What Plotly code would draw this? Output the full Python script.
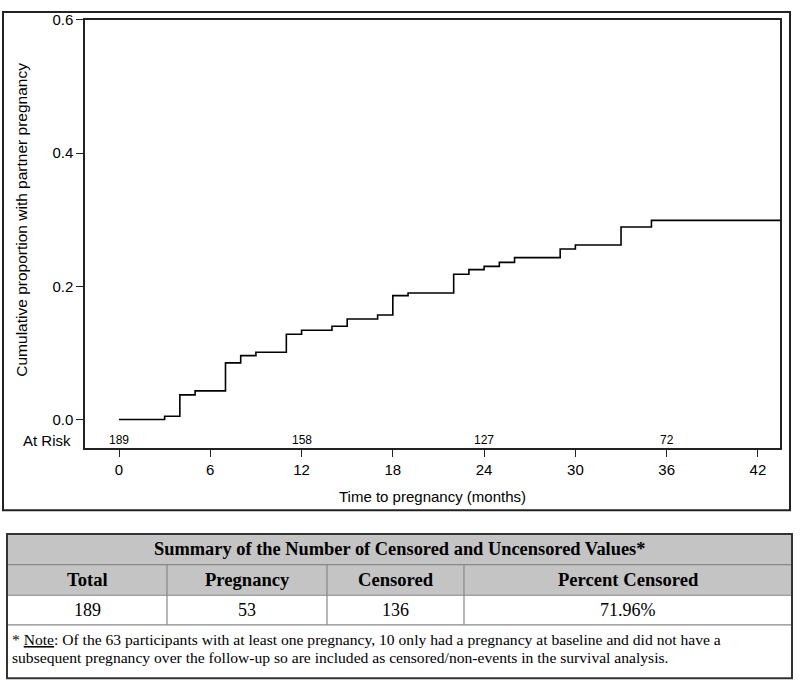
import plotly.graph_objects as go

# ---------------- data ----------------
event_times = [0, 3, 4, 5, 7, 8, 9, 11, 12, 14, 15, 17, 18, 19, 22, 23, 24, 25, 26, 29, 30, 33, 35, 43.45]
cum_prop = [0, 0.005, 0.037, 0.043, 0.085, 0.096, 0.101, 0.128, 0.134, 0.140, 0.151, 0.157, 0.186,
            0.190, 0.218, 0.225, 0.230, 0.236, 0.243, 0.256, 0.262, 0.289, 0.299, 0.299]
x_ticks = [0, 6, 12, 18, 24, 30, 36, 42]
y_ticks = [0.0, 0.2, 0.4, 0.6]
risk_times = [0, 12, 24, 36]
at_risk = [189, 158, 127, 72]

table_title = "Summary of the Number of Censored and Uncensored Values*"
table_headers = ["Total", "Pregnancy", "Censored", "Percent Censored"]
table_values = ["189", "53", "136", "71.96%"]
note_line1 = ("* <span style='text-decoration:underline'>Note</span>: Of the 63 participants with at least one "
              "pregnancy, 10 only had a pregnancy at baseline and did not have a")
note_line2 = ("subsequent pregnancy over the follow-up so are included as censored/non-events in the survival analysis.")

# ---------------- layout helpers (pixel -> paper) ----------------
W, H = 800, 688
def px(x):
    return x / W
def py(y):
    return 1 - y / H

SANS = "Liberation Sans, Arial, sans-serif"
SERIF = "Liberation Serif, Times New Roman, serif"

fig = go.Figure()
fig.add_trace(go.Scatter(x=event_times, y=cum_prop, mode="lines", line=dict(color="black", width=1.6, shape="hv"),
                         hoverinfo="skip", showlegend=False, cliponaxis=False))

# At-risk numbers
for t, n in zip(risk_times, at_risk):
    fig.add_annotation(x=t, y=-0.031, xref="x", yref="y", text=str(n), showarrow=False,
                       font=dict(family=SANS, size=12, color="black"), xanchor="center", yanchor="middle")
fig.add_annotation(x=px(73), y=-0.031, xref="paper", yref="y", text="At Risk", showarrow=False,
                   font=dict(family=SANS, size=15, color="black"), xanchor="right", yanchor="middle")

# Y axis title
fig.add_annotation(x=px(22), y=0.3, xref="paper", yref="y", text="Cumulative proportion with partner pregnancy",
                   textangle=-90, showarrow=False, font=dict(family=SANS, size=15.5, color="black"),
                   xanchor="center", yanchor="middle")
# X axis title
fig.add_annotation(x=(px(85) + px(780)) / 2, y=py(494), xref="paper", yref="paper", text="Time to pregnancy (months)",
                   showarrow=False, font=dict(family=SANS, size=15, color="black"), xanchor="center", yanchor="middle")

shapes = []
# outer frame of chart
shapes.append(dict(type="rect", xref="paper", yref="paper", x0=px(3), x1=px(790), y0=py(508), y1=py(3),
                   line=dict(color="#222", width=2)))

# ---------------- table ----------------
tl, tr = 7, 792
col_edges = [7, 167, 327, 464, 792]
rows = [532, 563, 594, 624, 678]
gray = "#c4c4c4"
shapes.append(dict(type="rect", xref="paper", yref="paper", x0=px(tl), x1=px(tr), y0=py(rows[2]), y1=py(rows[0]),
                   fillcolor=gray, line=dict(width=0), layer="below"))
for yy in rows[1:4]:
    shapes.append(dict(type="line", xref="paper", yref="paper", x0=px(tl), x1=px(tr), y0=py(yy), y1=py(yy),
                       line=dict(color="#888", width=1.2)))
for xx in col_edges[1:-1]:
    shapes.append(dict(type="line", xref="paper", yref="paper", x0=px(xx), x1=px(xx), y0=py(rows[3]), y1=py(rows[1]),
                       line=dict(color="#888", width=1.2)))
shapes.append(dict(type="rect", xref="paper", yref="paper", x0=px(tl), x1=px(tr), y0=py(rows[4]), y1=py(rows[0]),
                   line=dict(color="#333", width=2)))

fig.add_annotation(x=(px(tl) + px(tr)) / 2, y=py((rows[0] + rows[1]) / 2), xref="paper", yref="paper",
                   text="<b>" + table_title + "</b>", showarrow=False,
                   font=dict(family=SERIF, size=18.4, color="black"), xanchor="center", yanchor="middle")
for i, (hdr, val) in enumerate(zip(table_headers, table_values)):
    cx = (col_edges[i] + col_edges[i + 1]) / 2
    fig.add_annotation(x=px(cx), y=py((rows[1] + rows[2]) / 2), xref="paper", yref="paper",
                       text="<b>" + hdr + "</b>", showarrow=False,
                       font=dict(family=SERIF, size=18.6, color="black"), xanchor="center", yanchor="middle")
    fig.add_annotation(x=px(cx), y=py((rows[2] + rows[3]) / 2), xref="paper", yref="paper",
                       text=val, showarrow=False,
                       font=dict(family=SERIF, size=18, color="black"), xanchor="center", yanchor="middle")
fig.add_annotation(x=px(10), y=py(639), xref="paper", yref="paper", text=note_line1, showarrow=False,
                   font=dict(family=SERIF, size=15.6, color="black"), xanchor="left", yanchor="middle")
fig.add_annotation(x=px(10), y=py(657), xref="paper", yref="paper", text=note_line2, showarrow=False,
                   font=dict(family=SERIF, size=15.6, color="black"), xanchor="left", yanchor="middle")

fig.update_layout(
    width=W, height=H, margin=dict(l=0, r=0, t=0, b=0),
    paper_bgcolor="white", plot_bgcolor="white", shapes=shapes,
    xaxis=dict(domain=[px(85), px(780)], range=[-2.235, 43.45], tickvals=x_ticks, ticktext=[str(v) for v in x_ticks],
               showgrid=False, zeroline=False, showline=True, linecolor="#222", linewidth=1.5, mirror=True,
               ticks="outside", ticklen=7, tickwidth=1.2, tickcolor="#222",
               tickfont=dict(family=SANS, size=15, color="black")),
    yaxis=dict(domain=[py(445), py(11)], range=[-0.043, 0.6], tickvals=y_ticks, ticktext=[f"{v:.1f}" for v in y_ticks],
               showgrid=False, zeroline=False, showline=True, linecolor="#222", linewidth=1.5, mirror=True,
               ticks="outside", ticklen=7, tickwidth=1.2, tickcolor="#222",
               tickfont=dict(family=SANS, size=15, color="black")),
)

fig.write_html("out.html", config={"displayModeBar": False},
               post_script="document.body.style.margin='0px';document.body.style.overflow='hidden';")
